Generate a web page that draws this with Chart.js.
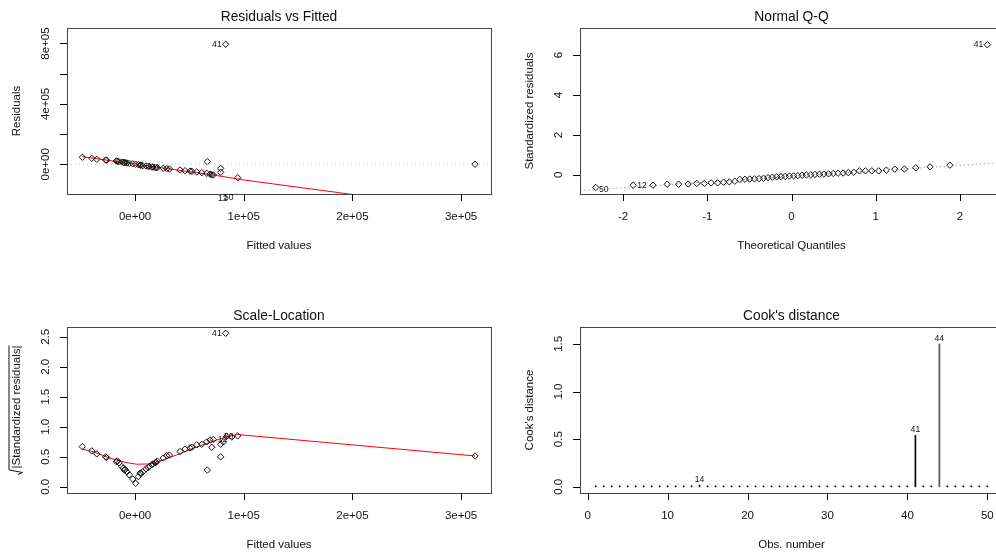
<!DOCTYPE html>
<html><head><meta charset="utf-8">
<script src="https://cdn.jsdelivr.net/npm/chart.js@4.4.1/dist/chart.umd.min.js"></script>
<style>
html,body{margin:0;padding:0;background:#fff;overflow:hidden;width:996px;height:552px;}
#wrap{position:relative;width:996px;height:552px;overflow:hidden;background:#fff;}
canvas{position:absolute;}
</style></head><body>
<div id="wrap">
<canvas id="c1" width="498" height="276" style="left:0;top:0"></canvas>
<canvas id="c2" width="510" height="276" style="left:498px;top:0"></canvas>
<canvas id="c3" width="498" height="276" style="left:0;top:276px"></canvas>
<canvas id="c4" width="510" height="276" style="left:498px;top:276px"></canvas>
</div>
<script>
// ---------- data ----------
const fittedValues = [-48500,-39800,-35200,-27000,-26200,-17200,-16200,-14800,-12200,-10800,
  -9800,-9000,-7500,-5200,-2100,600,3000,4600,5500,7100,
  10100,12200,13200,15400,16300,18400,19300,20500,26000,29200,
  31600,41400,46000,50600,52200,56800,61400,66000,66500,69000,
  70600,72000,78800,78800,81200,84300,89000,83400,94500,312800];
const residualValues = [46300,39700,33100,28500,27500,21800,20000,17200,15000,13200,
  12000,11000,8600,6200,3500,500,-2000,-4600,-6000,-9300,
  -11000,-13200,-14500,-17900,-18500,-19900,-21000,-22500,-26500,-29000,
  -31100,-37700,-42400,-45000,-46300,-51000,-55600,-59600,17200,-66200,
  -68500,-70800,-26500,-53000,-230000,-220000,-225000,795000,-88700,500];
const sqrtStdResid = [0.67,0.60,0.55,0.50,0.49,0.42,0.43,0.40,0.34,0.31,
  0.28,0.29,0.25,0.20,0.13,0.06,0.17,0.23,0.22,0.25,
  0.30,0.32,0.34,0.37,0.38,0.40,0.41,0.43,0.48,0.52,
  0.53,0.59,0.63,0.65,0.66,0.70,0.71,0.75,0.28,0.78,
  0.66,0.79,0.50,0.71,0.75,0.84,0.83,2.56,0.85,0.515];
const qqTheoretical = [-2.326,-1.881,-1.645,-1.476,-1.341,-1.227,-1.126,-1.036,-0.954,-0.878,
  -0.806,-0.739,-0.674,-0.613,-0.553,-0.496,-0.440,-0.385,-0.332,-0.279,
  -0.228,-0.176,-0.126,-0.075,-0.025,0.025,0.075,0.126,0.176,0.228,
  0.279,0.332,0.385,0.440,0.496,0.553,0.613,0.674,0.739,0.806,
  0.878,0.954,1.036,1.126,1.227,1.341,1.476,1.645,1.881,2.326];
const qqStdResid = [-0.63,-0.52,-0.52,-0.47,-0.47,-0.46,-0.43,-0.43,-0.40,-0.40,
  -0.37,-0.35,-0.32,-0.23,-0.22,-0.21,-0.20,-0.19,-0.17,-0.14,
  -0.12,-0.10,-0.09,-0.08,-0.06,-0.05,-0.04,-0.02,-0.01,0.00,
  0.02,0.03,0.04,0.05,0.07,0.08,0.09,0.11,0.13,0.20,
  0.20,0.20,0.20,0.235,0.285,0.29,0.35,0.40,0.485,6.52];
const cooksDistance = [0.004,0.002,0.003,0.001,0.002,0.003,0.002,0.004,0.001,0.002,
  0.003,0.005,0.002,0.02,0.003,0.002,0.001,0.002,0.003,0.002,
  0.001,0.003,0.002,0.004,0.002,0.001,0.003,0.002,0.002,0.003,
  0.001,0.002,0.003,0.012,0.002,0.003,0.002,0.001,0.003,0.002,
  0.54,0.003,0.002,1.50,0.002,0.003,0.001,0.002,0.003,0.004];

// smoother / reference lines
const rvfSmoothX = [-48500,0,71800,100300,197000,312800];
const rvfSmoothY = [50300,1000,-70800,-104000,-197000,-308000];
const zeroLineX = [-70000,340000];
const zeroLineY = [0,0];
const qqLineX = [-2.6,2.6];
const qqLineY = [-0.813,0.643];
const slSmoothX = [-48500,-38400,-23000,-7600,1600,13800,23000,38400,53600,69000,84400,93600,94500,312800];
const slSmoothY = [0.63,0.586,0.477,0.404,0.377,0.382,0.432,0.532,0.643,0.743,0.836,0.870,0.872,0.515];

// point labels (text and data anchor)
const rvfLabelText = ["41","12","50"];
const rvfLabelX = [75300,80700,86200];
const rvfLabelY = [795000,-225000,-221000];
const qqLabelText = ["50","12","41"];
const qqLabelX = [-2.23,-1.775,2.22];
const qqLabelY = [-0.73,-0.565,6.52];
const slLabelText = ["41","12","50"];
const slLabelX = [75300,80500,86200];
const slLabelY = [2.553,0.79,0.836];
const cookLabelText = ["14","41","44"];
const cookLabelX = [14,41,44];
const cookLabelY = [0.073,0.597,1.552];

// ticks
const fitTicks = [0,100000,200000,300000];
const fitTickLabels = ["0e+00","1e+05","2e+05","3e+05"];
const resTicks = [0,200000,400000,600000,800000];
const resTickLabels = ["0e+00","","4e+05","","8e+05"];
const qqXTicks = [-2,-1,0,1,2];
const qqXTickLabels = ["-2","-1","0","1","2"];
const qqYTicks = [0,2,4,6];
const qqYTickLabels = ["0","2","4","6"];
const slYTicks = [0,0.5,1,1.5,2,2.5];
const slYTickLabels = ["0.0","0.5","1.0","1.5","2.0","2.5"];
const obsTicks = [0,10,20,30,40,50];
const obsTickLabels = ["0","10","20","30","40","50"];
const cookYTicks = [0,0.5,1,1.5];
const cookYTickLabels = ["0.0","0.5","1.0","1.5"];

// ---------- rendering ----------
const FONT = '"Liberation Sans", Arial, Helvetica, sans-serif';
const xy = (xs, ys) => xs.map((x, i) => ({x: x, y: ys[i]}));

function decoPlugin(d) {
  return {
    id: 'rdeco',
    afterDraw(chart) {
      const ctx = chart.ctx, a = chart.chartArea, xs = chart.scales.x, ys = chart.scales.y;
      ctx.save();
      // box
      ctx.strokeStyle = '#444'; ctx.lineWidth = 1;
      ctx.strokeRect(Math.round(a.left) + 0.5, Math.round(a.top) + 0.5,
                     Math.round(a.right - a.left), Math.round(a.bottom - a.top));
      // ticks
      ctx.strokeStyle = '#000';
      ctx.beginPath();
      d.xTicks.forEach(v => { const p = Math.round(xs.getPixelForValue(v)) + 0.5; ctx.moveTo(p, Math.round(a.bottom)); ctx.lineTo(p, Math.round(a.bottom) + 7); });
      d.yTicks.forEach(v => { const p = Math.round(ys.getPixelForValue(v)) + 0.5; ctx.moveTo(Math.round(a.left), p); ctx.lineTo(Math.round(a.left) - 7, p); });
      ctx.stroke();
      ctx.fillStyle = '#111';
      ctx.textAlign = 'center'; ctx.textBaseline = 'middle';
      ctx.font = '11.5px ' + FONT;
      d.xTicks.forEach((v, i) => ctx.fillText(d.xTickLabels[i], xs.getPixelForValue(v), a.bottom + 22.5));
      d.yTicks.forEach((v, i) => {
        if (!d.yTickLabels[i]) return;
        ctx.save(); ctx.translate(a.left - 21, ys.getPixelForValue(v)); ctx.rotate(-Math.PI / 2);
        ctx.fillText(d.yTickLabels[i], 0, 0); ctx.restore();
      });
      const cx = (a.left + a.right) / 2, cy = (a.top + a.bottom) / 2;
      ctx.fillText(d.xlab, cx, a.bottom + 51.5);
      ctx.save(); ctx.translate(a.left - 50, cy); ctx.rotate(-Math.PI / 2);
      if (d.sqrt) {
        const w = ctx.measureText(d.ylab).width, rw = 6, total = w + rw;
        const x0 = -total / 2;
        ctx.textAlign = 'left';
        ctx.fillText(d.ylab, x0 + rw, 0);
        ctx.strokeStyle = '#111'; ctx.lineWidth = 1;
        ctx.beginPath();
        ctx.moveTo(x0, 1); ctx.lineTo(x0 + 2, 5.5); ctx.lineTo(x0 + 4.5, -8); ctx.lineTo(x0 + total, -8);
        ctx.stroke();
      } else {
        ctx.fillText(d.ylab, 0, 0);
      }
      ctx.restore();
      ctx.font = '13.8px ' + FONT;
      ctx.fillText(d.title, cx, a.top - 11);
      // point labels
      ctx.font = '8.6px ' + FONT;
      d.labText.forEach((t, i) => ctx.fillText(t, xs.getPixelForValue(d.labX[i]), ys.getPixelForValue(d.labY[i])));
      ctx.restore();
    }
  };
}

function baseOptions(xr, yr, pad) {
  return {
    responsive: false, animation: false, devicePixelRatio: 1,
    layout: {padding: pad},
    plugins: {legend: {display: false}, tooltip: {enabled: false}, title: {display: false}},
    scales: {
      x: {type: 'linear', min: xr[0], max: xr[1], display: false, offset: false},
      y: {type: 'linear', min: yr[0], max: yr[1], display: false}
    }
  };
}
const pointStyle = {pointRadius: 3.2, pointBorderWidth: 1, borderColor: '#111', pointBorderColor: '#111',
  backgroundColor: 'rgba(0,0,0,0)', pointBackgroundColor: 'rgba(0,0,0,0)', pointStyle: 'rectRot', clip: 0, showLine: false};
const lineStyle = (col, w, dash) => ({showLine: true, borderColor: col, borderWidth: w, borderDash: dash || [],
  pointRadius: 0, fill: false, tension: 0, clip: 0});

// Panel 1: Residuals vs Fitted
new Chart(document.getElementById('c1'), {
  type: 'scatter',
  data: {datasets: [
    Object.assign({data: xy(zeroLineX, zeroLineY)}, lineStyle('#bebebe', 1, [1, 3])),
    Object.assign({data: xy(fittedValues, residualValues)}, pointStyle),
    Object.assign({data: xy(rvfSmoothX, rvfSmoothY)}, lineStyle('#ff0000', 1))
  ]},
  options: baseOptions([-62600, 327500], [-196700, 902600], {left: 67, top: 28, right: 7, bottom: 82}),
  plugins: [decoPlugin({title: 'Residuals vs Fitted', xlab: 'Fitted values', ylab: 'Residuals',
    xTicks: fitTicks, xTickLabels: fitTickLabels, yTicks: resTicks, yTickLabels: resTickLabels,
    labText: rvfLabelText, labX: rvfLabelX, labY: rvfLabelY})]
});

// Panel 2: Normal Q-Q
new Chart(document.getElementById('c2'), {
  type: 'scatter',
  data: {datasets: [
    Object.assign({data: xy(qqLineX, qqLineY)}, lineStyle('#7f7f7f', 1, [1, 3])),
    Object.assign({data: xy(qqTheoretical, qqStdResid)}, pointStyle)
  ]},
  options: baseOptions([-2.512, 2.512], [-0.96, 7.36], {left: 82, top: 28, right: 5, bottom: 82}),
  plugins: [decoPlugin({title: 'Normal Q-Q', xlab: 'Theoretical Quantiles', ylab: 'Standardized residuals',
    xTicks: qqXTicks, xTickLabels: qqXTickLabels, yTicks: qqYTicks, yTickLabels: qqYTickLabels,
    labText: qqLabelText, labX: qqLabelX, labY: qqLabelY})]
});

// Panel 3: Scale-Location
new Chart(document.getElementById('c3'), {
  type: 'scatter',
  data: {datasets: [
    Object.assign({data: xy(fittedValues, sqrtStdResid)}, pointStyle),
    Object.assign({data: xy(slSmoothX, slSmoothY)}, lineStyle('#ff0000', 1))
  ]},
  options: baseOptions([-62600, 327500], [-0.1025, 2.6645], {left: 67, top: 51, right: 7, bottom: 59}),
  plugins: [decoPlugin({title: 'Scale-Location', xlab: 'Fitted values', ylab: '|Standardized residuals|', sqrt: true,
    xTicks: fitTicks, xTickLabels: fitTickLabels, yTicks: slYTicks, yTickLabels: slYTickLabels,
    labText: slLabelText, labX: slLabelX, labY: slLabelY})]
});

// Panel 4: Cook's distance
new Chart(document.getElementById('c4'), {
  type: 'bar',
  data: {datasets: [{
    data: cooksDistance.map((v, i) => ({x: i + 1, y: v})),
    backgroundColor: cooksDistance.map(v => v > 1 ? '#555' : '#000'),
    borderWidth: 0, barThickness: 1, minBarLength: 1
  }]},
  options: baseOptions([-0.96, 51.96], [-0.0645, 1.677], {left: 82, top: 51, right: 5, bottom: 59}),
  plugins: [decoPlugin({title: "Cook's distance", xlab: 'Obs. number', ylab: "Cook's distance",
    xTicks: obsTicks, xTickLabels: obsTickLabels, yTicks: cookYTicks, yTickLabels: cookYTickLabels,
    labText: cookLabelText, labX: cookLabelX, labY: cookLabelY})]
});
</script>
</body></html>
